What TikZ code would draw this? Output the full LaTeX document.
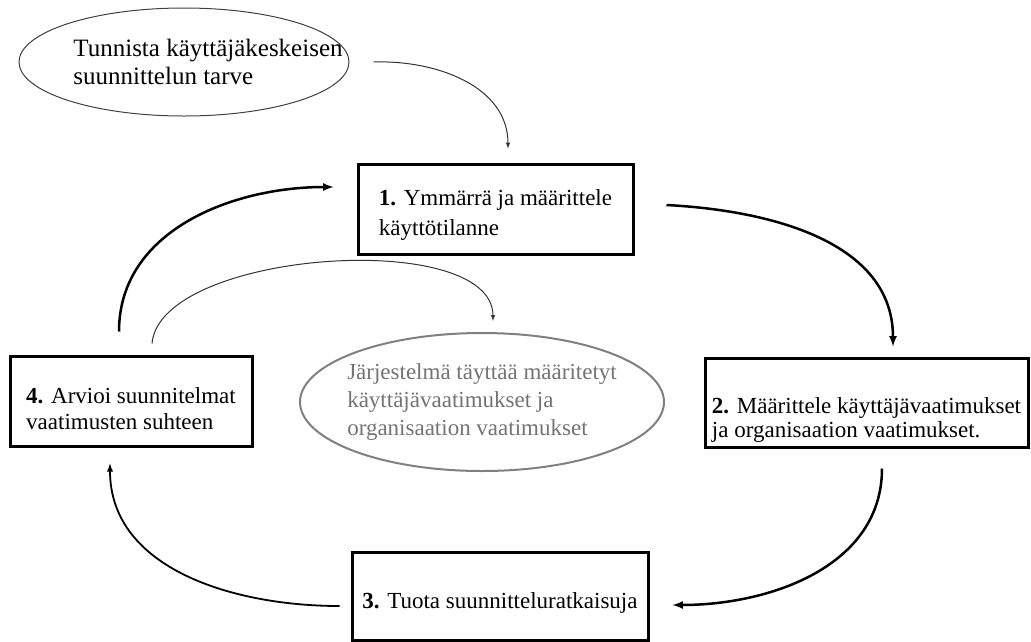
\documentclass[tikz,border=0pt]{standalone}
\usepackage{fontspec}
\setmainfont{Liberation Serif}
\usepackage{tikz}
\usetikzlibrary{arrows,shapes,calc}
\newcommand{\lowerby}[1]{\rule{0pt}{#1}}

\begin{document}
\begin{tikzpicture}[x=1pt,y=-1pt]
\tikzstyle{phase}=[rectangle, draw=black, line width=3pt, align=left, inner sep=0pt, font=\fontsize{23}{28}\selectfont]
\tikzstyle{need}=[ellipse, draw=black!75, line width=1pt, inner xsep=-50pt, align=left, font=\fontsize{25}{28}\selectfont]
\tikzstyle{goal}=[ellipse, draw=black!50, line width=2pt, inner xsep=-20pt, align=left, text=black!55, font=\fontsize{23}{28}\selectfont]
\tikzstyle{connect}=[-latex, line width=2.5pt]
\tikzstyle{thin}=[-latex, line width=1pt, draw=black!80]

  \useasboundingbox (0,0) rectangle (1031,641);

  \node[need, minimum width=330, minimum height=108] (need) at (184,62)
       {\hspace*{48pt}Tunnista käyttäjäkeskeisen\\\hspace*{48pt}suunnittelun tarve};
  \node[phase, minimum width=275, minimum height=90, font=\fontsize{23}{30}\selectfont] (p1) at (495.5,209)
       {\lowerby{27pt}\textbf{1.} Ymmärrä ja määrittele\\käyttötilanne};
  \node[phase, minimum width=323, minimum height=89, font=\fontsize{23}{24}\selectfont] (p2) at (866.5,402.5)
       {\lowerby{50pt}\textbf{2.} Määrittele käyttäjävaatimukset\\ja organisaation vaatimukset.};
  \node[phase, minimum width=296, minimum height=88] (p3) at (500,596)
       {\lowerby{29pt}\textbf{3.} Tuota suunnitteluratkaisuja};
  \node[phase, minimum width=242, minimum height=90, font=\fontsize{23}{26}\selectfont] (p4) at (131,401)
       {\lowerby{31pt}\textbf{4.} Arvioi suunnitelmat\\vaatimusten suhteen};
  \node[goal, minimum width=364, minimum height=138] (goal) at (482,402)
       {Järjestelmä täyttää määritetyt\\käyttäjävaatimukset ja\\organisaation vaatimukset};

  \path ([xshift=24pt]need.east) edge [thin, out=2, in=90] ([xshift=12.5pt,yshift=14pt]p1.north)
        ([xshift=32pt,yshift=4pt]p1.east) edge [connect, out=-3, in=90] ([xshift=26.5pt,yshift=10pt]p2.north)
        ([xshift=15.5pt,yshift=-20pt]p2.south) edge [connect, out=-90, in=0] ([xshift=23pt,yshift=-9pt]p3.east)
        ([xshift=-11pt,yshift=-10pt]p3.west) edge [connect, line width=1.8pt, out=180, in=-90] ([xshift=-21pt,yshift=-16pt]p4.south)
        ([xshift=-12pt,yshift=23pt]p4.north) edge [connect, out=90, in=180] ([xshift=-23pt,yshift=22pt]p1.west)
        ([xshift=21pt,yshift=11pt]p4.north) edge [thin, out=85, in=90, looseness=0.7] ([xshift=11pt,yshift=11pt]goal.north);

\end{tikzpicture}
\end{document}
